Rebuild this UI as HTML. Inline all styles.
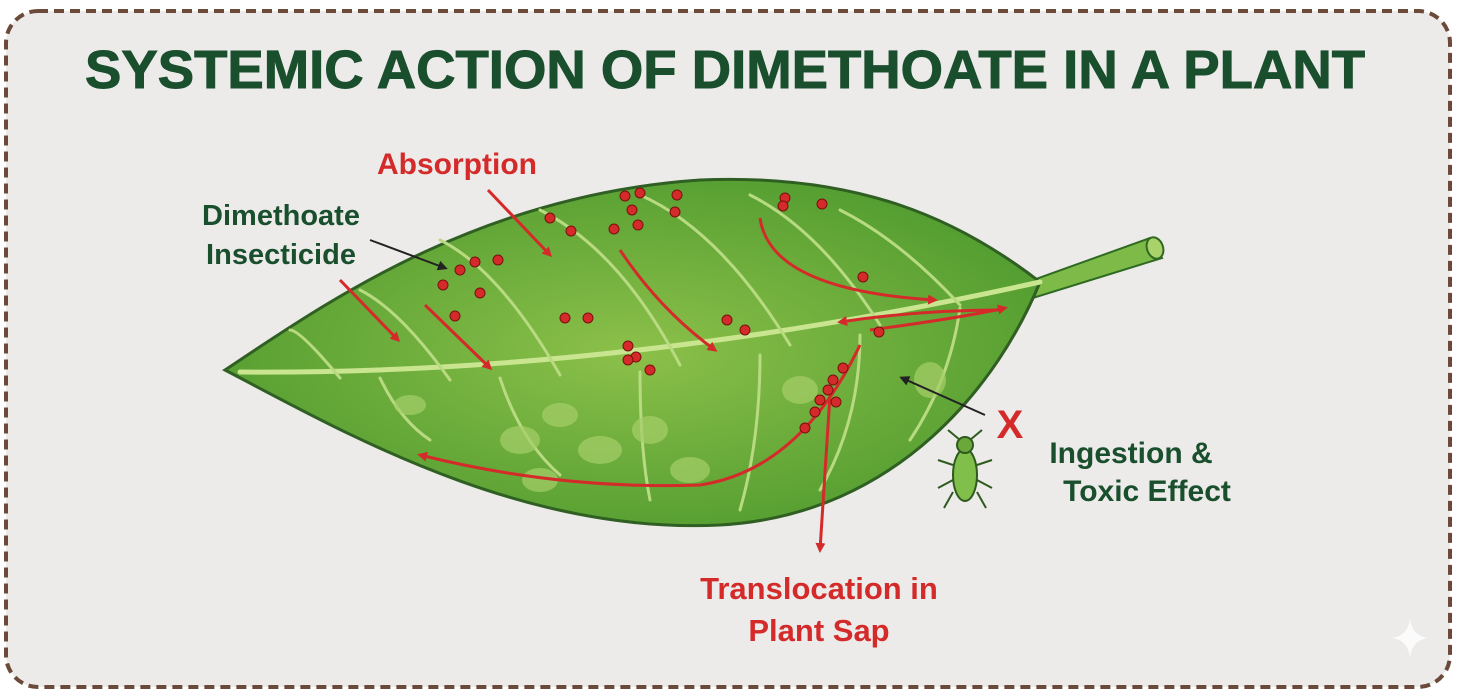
<!DOCTYPE html>
<html><head><meta charset="utf-8"><style>
html,body{margin:0;padding:0;background:#fff;}
svg{display:block;}
text{font-family:"Liberation Sans",Arial,sans-serif;font-weight:bold;}
</style></head><body>
<svg width="1462" height="693" viewBox="0 0 1462 693" xmlns="http://www.w3.org/2000/svg">
<defs>
<marker id="ar" markerWidth="10" markerHeight="10" refX="7" refY="5" orient="auto" markerUnits="userSpaceOnUse"><path d="M0,0 L10,5 L0,10 Z" fill="#d42a2a"/></marker>
<marker id="ab" markerWidth="10" markerHeight="10" refX="7" refY="5" orient="auto" markerUnits="userSpaceOnUse"><path d="M0,0 L10,5 L0,10 Z" fill="#222"/></marker>
<radialGradient id="lg" cx="0.5" cy="0.5" r="0.6"><stop offset="0" stop-color="#8cc04a"/><stop offset="1" stop-color="#4e9a2e"/></radialGradient>
</defs>
<rect width="1462" height="693" fill="#fff"/>
<rect x="6" y="11" width="1444" height="676" rx="32" fill="#edebea" stroke="#6b4a3a" stroke-width="4" stroke-dasharray="10,6"/>
<text x="85" y="88" textLength="1280" lengthAdjust="spacingAndGlyphs" font-size="54" fill="#1a4f2e" stroke="#1a4f2e" stroke-width="1">SYSTEMIC ACTION OF DIMETHOATE IN A PLANT</text>
<!-- stem -->
<path d="M1000,292 L1150,238 L1162,258 L1010,305 Z" fill="#7dba48" stroke="#2f6a22" stroke-width="2"/>
<ellipse cx="1155" cy="248" rx="8" ry="11" fill="#a9d36a" stroke="#2f6a22" stroke-width="2" transform="rotate(-20 1155 248)"/>
<!-- leaf -->
<path d="M225,370 C330,300 480,195 700,180 C860,173 960,220 1040,282 C1000,380 900,515 720,525 C520,535 340,430 225,370 Z" fill="url(#lg)" stroke="#2f5f22" stroke-width="3"/>
<g fill="none" stroke="#c9e58f" stroke-width="5" stroke-linecap="round">
<path d="M240,372 Q620,375 1040,282"/>
</g>
<g fill="none" stroke="#b8da80" stroke-width="3" stroke-linecap="round">
<path d="M340,378 Q300,330 290,330"/><path d="M450,380 Q400,310 360,290"/><path d="M560,375 Q500,270 440,240"/>
<path d="M680,365 Q620,250 540,210"/><path d="M790,345 Q720,230 640,195"/><path d="M880,325 Q820,230 750,195"/>
<path d="M960,305 Q900,240 840,210"/>
<path d="M380,378 Q400,420 430,440"/><path d="M500,378 Q520,440 560,475"/><path d="M640,372 Q640,450 650,500"/>
<path d="M760,355 Q760,440 740,510"/><path d="M860,335 Q860,420 820,490"/><path d="M960,308 Q950,380 910,440"/>
</g>
<g fill="#a6cf6a" opacity="0.7">
<ellipse cx="520" cy="440" rx="20" ry="14"/><ellipse cx="560" cy="415" rx="18" ry="12"/><ellipse cx="600" cy="450" rx="22" ry="14"/>
<ellipse cx="650" cy="430" rx="18" ry="14"/><ellipse cx="690" cy="470" rx="20" ry="13"/><ellipse cx="800" cy="390" rx="18" ry="14"/>
<ellipse cx="410" cy="405" rx="16" ry="10"/><ellipse cx="930" cy="380" rx="16" ry="18"/><ellipse cx="540" cy="480" rx="18" ry="12"/>
</g>
<g fill="none" stroke="#d42a2a" stroke-width="3" marker-end="url(#ar)">
<path d="M488,190 L550,255"/>
<path d="M340,280 L398,340"/>
<path d="M425,305 L490,368"/>
<path d="M620,250 Q660,310 715,350"/>
<path d="M760,218 Q770,290 935,300"/>
<path d="M1000,310 Q920,310 840,322"/>
<path d="M870,330 Q960,318 1005,308"/>
<path d="M860,345 Q800,470 700,485 Q560,490 420,455"/>
<path d="M830,395 L820,550"/>
</g>
<g fill="#d42a2a" stroke="#7a1010" stroke-width="1">
<circle cx="460" cy="270" r="5"/><circle cx="475" cy="262" r="5"/><circle cx="498" cy="260" r="5"/><circle cx="443" cy="285" r="5"/>
<circle cx="480" cy="293" r="5"/><circle cx="455" cy="316" r="5"/><circle cx="550" cy="218" r="5"/><circle cx="571" cy="231" r="5"/>
<circle cx="625" cy="196" r="5"/><circle cx="640" cy="193" r="5"/><circle cx="677" cy="195" r="5"/><circle cx="632" cy="210" r="5"/>
<circle cx="675" cy="212" r="5"/><circle cx="614" cy="229" r="5"/><circle cx="638" cy="225" r="5"/><circle cx="785" cy="198" r="5"/>
<circle cx="783" cy="206" r="5"/><circle cx="822" cy="204" r="5"/><circle cx="565" cy="318" r="5"/><circle cx="588" cy="318" r="5"/>
<circle cx="727" cy="320" r="5"/><circle cx="745" cy="330" r="5"/><circle cx="628" cy="346" r="5"/><circle cx="636" cy="357" r="5"/>
<circle cx="628" cy="360" r="5"/><circle cx="650" cy="370" r="5"/><circle cx="863" cy="277" r="5"/><circle cx="879" cy="332" r="5"/>
<circle cx="843" cy="368" r="5"/><circle cx="833" cy="380" r="5"/><circle cx="828" cy="390" r="5"/><circle cx="820" cy="400" r="5"/>
<circle cx="815" cy="412" r="5"/><circle cx="805" cy="428" r="5"/><circle cx="836" cy="402" r="5"/>
</g>
<g stroke="#222" stroke-width="2" fill="none" marker-end="url(#ab)">
<path d="M370,240 L445,268"/><path d="M985,415 L902,378"/>
</g>
<g stroke="#2e5a1e" stroke-width="2" fill="none">
<ellipse cx="965" cy="475" rx="12" ry="26" fill="#7fbf4a"/>
<circle cx="965" cy="445" r="8" fill="#6aa83c"/>
<path d="M960,440 L948,430 M970,440 L982,430 M953,465 L938,460 M953,480 L938,488 M953,492 L944,508 M977,465 L992,460 M977,480 L992,488 M977,492 L986,508"/>
</g>
<text x="457" y="174" text-anchor="middle" font-size="30" fill="#d42a2a">Absorption</text>
<text x="281" y="225" text-anchor="middle" font-size="29" fill="#1a4f2e">Dimethoate</text>
<text x="281" y="264" text-anchor="middle" font-size="29" fill="#1a4f2e">Insecticide</text>
<text x="1010" y="438" text-anchor="middle" font-size="40" fill="#d42a2a">X</text>
<text x="1131" y="463" text-anchor="middle" font-size="30" fill="#1a4f2e">Ingestion &amp;</text>
<text x="1147" y="501" text-anchor="middle" font-size="30" fill="#1a4f2e">Toxic Effect</text>
<text x="819" y="599" text-anchor="middle" font-size="31" fill="#d42a2a">Translocation in</text>
<text x="819" y="641" text-anchor="middle" font-size="31" fill="#d42a2a">Plant Sap</text>
<path d="M1410,618 Q1412,636 1428,638 Q1412,640 1410,658 Q1408,640 1392,638 Q1408,636 1410,618 Z" fill="#fff" opacity="0.8"/>
</svg>
</body></html>
